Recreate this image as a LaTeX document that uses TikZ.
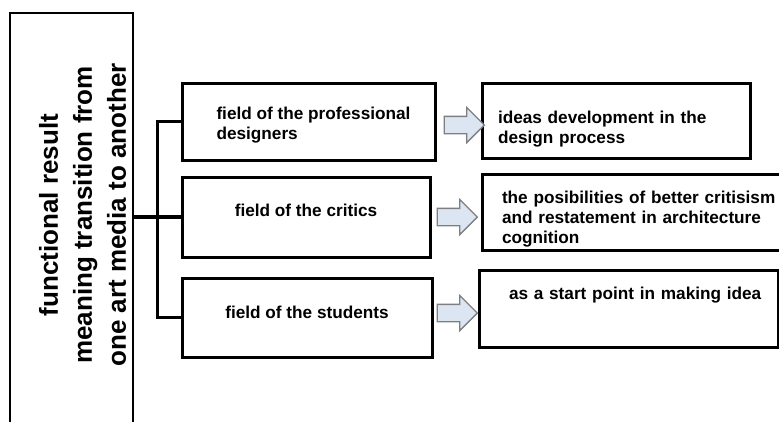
\documentclass[tikz,border=0pt]{standalone}
\usepackage{fontspec}
\setmainfont{Liberation Sans}
\usepackage{tikz}
\usetikzlibrary{shapes.arrows}
\definecolor{arrowfill}{HTML}{DCE6F2}
\definecolor{arrowline}{HTML}{7F7F7F}

\begin{document}
\begin{tikzpicture}[x=1pt,y=-1pt,
		fieldbox/.style={draw, line width=3pt, align=left, font=\fontsize{17.2}{20}\selectfont\bfseries},
		goalarrow/.style={single arrow, draw=arrowline, fill=arrowfill, line width=1.3pt, minimum height=40pt, minimum width=34pt, single arrow head extend=9pt, inner xsep=0pt, inner ysep=8pt}]
			\useasboundingbox (0,0) rectangle (779,421);
			\clip (0,0) rectangle (779,421);
			\node [draw, line width=2.6pt, minimum width=123pt, minimum height=440pt] (mediabox) at (71.5,233) {};
			\node [rotate=90, align=center, font=\fontsize{26}{34}\selectfont\bfseries] (medialabel) at (82.5,215) {functional result\\meaning transition from\\one art media to another};
			\node [fieldbox, minimum width=253pt, minimum height=77pt] (prof) at (308.5,121.5) {\rule{0pt}{20pt}\hspace*{10pt}field of the professional\\\hspace*{10pt}designers};
			\node [fieldbox, minimum width=248pt, minimum height=80pt] (crit) at (306,217) {field of the critics\rule[-14pt]{0pt}{14pt}};
			\node [fieldbox, minimum width=250pt, minimum height=79pt] (stud) at (307,317.5) {field of the students\rule[-10pt]{0pt}{10pt}};
			\node [fieldbox, inner xsep=16pt, text width=236pt, minimum height=75pt] (profgoal) at (616,120.5) {\rule{0pt}{30pt}ideas development in the\\design process};
			\node [fieldbox, inner xsep=20pt, text width=278pt, minimum height=75pt] (critgoal) at (641,212.5) {\rule{0pt}{26pt}the posibilities of better critisism\\and restatement in architecture\\cognition};
			\node [fieldbox, inner xsep=16pt, text width=267pt, minimum height=77pt] (studgoal) at (628.5,308.5) {\hspace*{14pt}as a start point in making idea\rule[-31pt]{0pt}{31pt}};
			\node [goalarrow] (profarrow) at (460,125) {};
			\node [goalarrow] (critarrow) at (453,217) {};
			\node [goalarrow] (studarrow) at (453,313) {};
			\coordinate (fork) at (157.5,218);
			\draw [line width=3.4pt] (mediabox.east |- crit.west) -- (crit.west);
			\draw [line width=3.4pt] (prof.west) -- (fork |- prof.west) -- (fork |- stud.west) -- (stud.west);
		\end{tikzpicture}
\end{document}
